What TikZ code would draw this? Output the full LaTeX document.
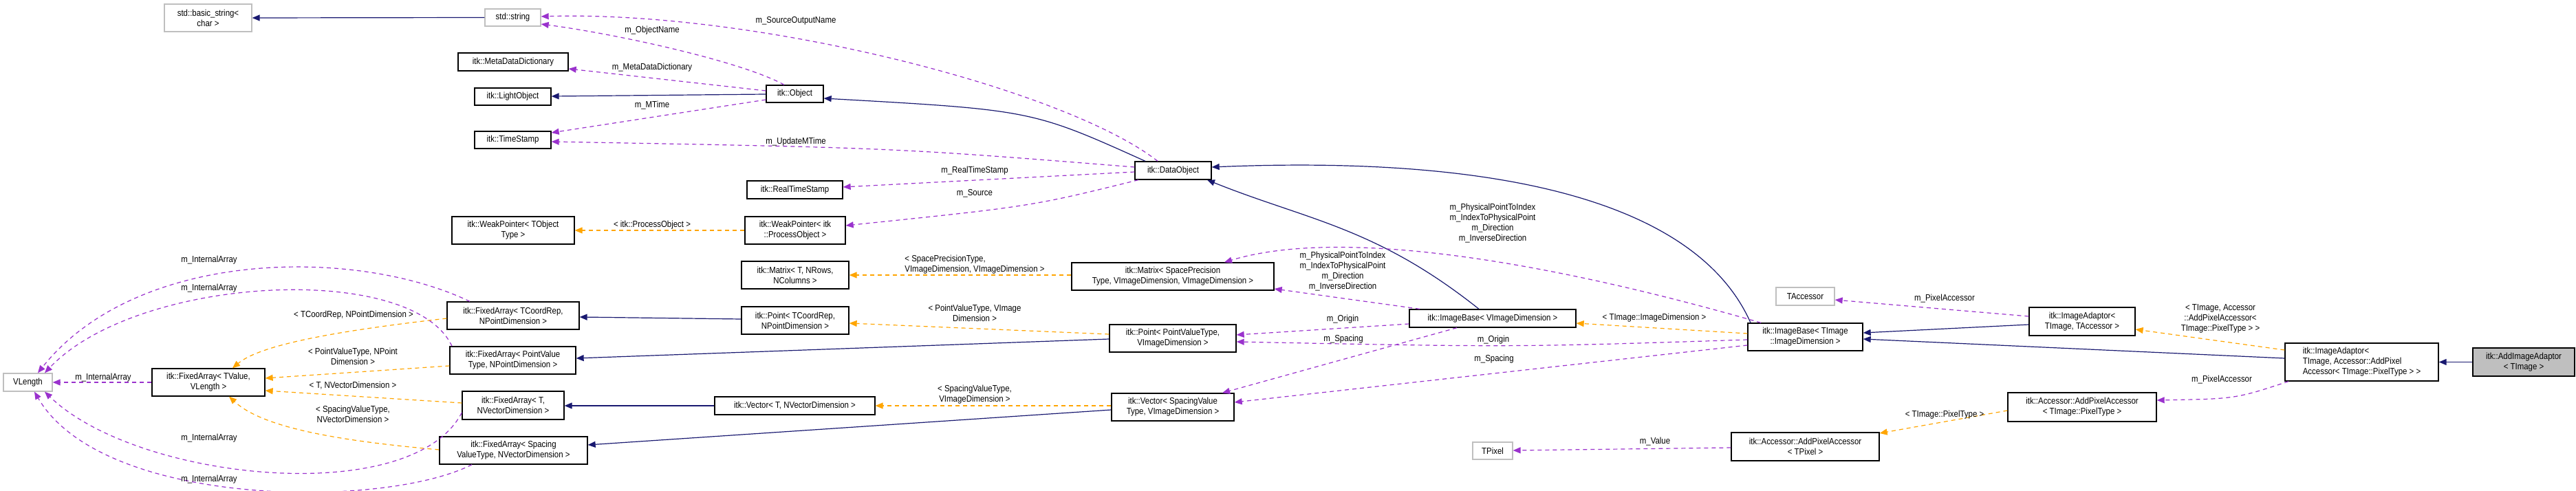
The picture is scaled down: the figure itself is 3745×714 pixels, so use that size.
\documentclass[tikz,border=0pt]{standalone}
\usepackage{fontspec}
\setmainfont{Liberation Sans}[FakeStretch=0.88]
\usetikzlibrary{arrows.meta}
\definecolor{inhc}{HTML}{191970}
\definecolor{usec}{HTML}{9A32CD}
\definecolor{tplc}{HTML}{FFA500}
\newcommand\fs{\fontsize{13}{15}\selectfont}
\newcommand\mybox[7][box]{\node[#1,minimum width={(#5-#3)*1pt},minimum height={(#6-#4)*1pt}] (#2) at ({(#3+#5)/2},{(#4+#6)/2}) {#7};}
\tikzset{
 box/.style={draw=black,line width=1.3pt,fill=white,inner sep=0pt,font=\fs,align=center},
 ext/.style={box,draw=black!25},
 sel/.style={box,fill=black!25},
 tip/.style={-{Triangle[width=9pt,length=11pt]}},
 inh/.style={tip,draw=inhc,line width=1.2pt},
 use/.style={tip,draw=usec,line width=1.2pt,dash pattern=on 6pt off 5pt},
 tpl/.style={tip,draw=tplc,line width=1.2pt,dash pattern=on 6pt off 5pt},
 lbl/.style={font=\fs,inner sep=0pt,align=center}
}
\begin{document}
\begin{tikzpicture}[x=1pt,y=-1pt]
\useasboundingbox (0,0) rectangle (3745,714);
% nodes
\mybox[ext]{bstr}{239}{6}{366}{46}{std::basic\_string<\\char >}
\mybox[ext]{str}{705}{13}{786}{38}{std::string}
\mybox{mdd}{666}{77}{826}{103}{itk::MetaDataDictionary}
\mybox{lobj}{690}{128}{801}{153}{itk::LightObject}
\mybox{ts}{690}{191}{801}{216}{itk::TimeStamp}
\mybox{wpt}{657}{315}{835}{355}{itk::WeakPointer< TObject\\Type >}
\mybox{obj}{1114}{124}{1197}{149}{itk::Object}
\mybox{dobj}{1650}{235}{1761}{261}{itk::DataObject}
\mybox{rts}{1086}{263}{1225}{289}{itk::RealTimeStamp}
\mybox{wpi}{1083}{315}{1229}{355}{itk::WeakPointer< itk\\::ProcessObject >}
\mybox{mt}{1078}{380}{1234}{420}{itk::Matrix< T, NRows,\\NColumns >}
\mybox{msp}{1558}{382}{1852}{422}{itk::Matrix< SpacePrecision\\Type, VImageDimension, VImageDimension >}
\mybox{pt}{1078}{446}{1234}{486}{itk::Point< TCoordRep,\\NPointDimension >}
\mybox{ppv}{1613}{472}{1797}{512}{itk::Point< PointValueType,\\VImageDimension >}
\mybox{vt}{1039}{577}{1272}{603}{itk::Vector< T, NVectorDimension >}
\mybox{vsv}{1616}{572}{1794}{612}{itk::Vector< SpacingValue\\Type, VImageDimension >}
\mybox{fatc}{650}{439}{842}{479}{itk::FixedArray< TCoordRep,\\NPointDimension >}
\mybox{fapv}{654}{504}{837}{544}{itk::FixedArray< PointValue\\Type, NPointDimension >}
\mybox{fat}{672}{569}{820}{610}{itk::FixedArray< T,\\NVectorDimension >}
\mybox{fasv}{639}{635}{854}{675}{itk::FixedArray< Spacing\\ValueType, NVectorDimension >}
\mybox{fatv}{221}{536}{385}{576}{itk::FixedArray< TValue,\\VLength >}
\mybox[ext]{vl}{5}{543}{76}{569}{VLength}
\mybox{ibv}{2049}{450}{2291}{476}{itk::ImageBase< VImageDimension >}
\mybox{ibt}{2541}{470}{2708}{510}{itk::ImageBase< TImage\\::ImageDimension >}
\mybox[ext]{tacc}{2582}{418}{2667}{444}{TAccessor}
\mybox[ext]{tpx}{2141}{643}{2199}{668}{TPixel}
\mybox{apt}{2517}{629}{2732}{670}{itk::Accessor::AddPixelAccessor\\< TPixel >}
\mybox{iat}{2950}{447}{3104}{488}{itk::ImageAdaptor<\\ TImage, TAccessor >}
\mybox[box,align=left]{iap}{3322}{499}{3545}{554}{itk::ImageAdaptor<\\ TImage, Accessor::AddPixel\\Accessor< TImage::PixelType > >}
\mybox[sel]{aia}{3595}{506}{3743}{547}{itk::AddImageAdaptor\\< TImage >}
\mybox{api}{2919}{571}{3135}{613}{itk::Accessor::AddPixelAccessor\\< TImage::PixelType >}
% edges
\draw[inh] (str.west) -- (bstr.east);
\draw[use] (obj.north -| 1140,0) .. controls (1080,90) and (900,50) .. (str.east |- 0,35);
\draw[use] (dobj.north -| 1683,0) .. controls (1550,130) and (1100,15) .. (str.east |- 0,24);
\draw[use] (obj.west |- 0,132) -- (mdd.east |- 0,100);
\draw[inh] (obj.west |- 0,137) -- (lobj.east |- 0,140);
\draw[use] (obj.west |- 0,145) -- (ts.east |- 0,193);
\draw[use] (dobj.west |- 0,243) .. controls (1300,215) .. (ts.east |- 0,206);
\draw[inh] (dobj.north -| 1665,0) .. controls (1500,160) .. (obj.east |- 0,143);
\draw[use] (dobj.west |- 0,250) -- (rts.east |- 0,272);
\draw[use] (dobj.south -| 1655,0) .. controls (1500,300) .. (wpi.east |- 0,328);
\draw[tpl] (wpi.west |- 0,335) -- (wpt.east |- 0,335);
\draw[tpl] (msp.west |- 0,400) -- (mt.east |- 0,400);
\draw[tpl] (ppv.west |- 0,486) -- (pt.east |- 0,470);
\draw[tpl] (vsv.west |- 0,590) -- (vt.east |- 0,590);
\draw[inh] (pt.west |- 0,464) -- (fatc.east |- 0,461);
\draw[inh] (ppv.west |- 0,493) -- (fapv.east |- 0,521);
\draw[inh] (vt.west |- 0,590) -- (fat.east |- 0,590);
\draw[inh] (vsv.west |- 0,596) -- (fasv.east |- 0,647);
\draw[tpl] (fatc.west |- 0,463) .. controls (500,480) and (380,500) .. (fatv.north -| 338,0);
\draw[tpl] (fapv.west |- 0,532) -- (fatv.east |- 0,550);
\draw[tpl] (fat.west |- 0,586) -- (fatv.east |- 0,568);
\draw[tpl] (fasv.west |- 0,654) .. controls (480,640) and (380,620) .. (fatv.south -| 333,0);
\draw[use] (fatv.west) -- (vl.east);
\draw[use] (fatc.north -| 683,0) .. controls (520,360) and (200,360) .. (vl.north -| 55,0);
\draw[use] (fapv.north -| 657,0) .. controls (600,380) and (200,400) .. (vl.north -| 65,0);
\draw[use] (fat.west |- 0,600) .. controls (600,740) and (200,700) .. (vl.south -| 65,0);
\draw[use] (fasv.south -| 686,0) .. controls (560,740) and (150,740) .. (vl.south -| 50,0);
\draw[inh] (ibv.north -| 2150,0) .. controls (2000,330) and (1900,320) .. (dobj.south -| 1755,0);
\draw[inh] (ibt.north -| 2545,0) .. controls (2470,300) and (2200,225) .. (dobj.east |- 0,243);
\draw[use] (ibv.north -| 2064,0) -- (msp.east |- 0,420);
\draw[use] (ibt.north -| 2560,0) .. controls (2250,380) and (1950,330) .. (msp.north -| 1780,0);
\draw[use] (ibv.west |- 0,471) -- (ppv.east |- 0,487);
\draw[use] (ibt.west |- 0,494) .. controls (2200,505) .. (ppv.east |- 0,497);
\draw[use] (ibv.south -| 2118,0) -- (vsv.north -| 1777,0);
\draw[use] (ibt.west |- 0,502) -- (vsv.east |- 0,585);
\draw[tpl] (ibt.west |- 0,485) -- (ibv.east |- 0,470);
\draw[use] (apt.west |- 0,651) -- (tpx.east |- 0,655);
\draw[use] (iat.west |- 0,460) -- (tacc.east |- 0,436);
\draw[inh] (iat.west |- 0,472) -- (ibt.east |- 0,484);
\draw[inh] (iap.west |- 0,521) -- (ibt.east |- 0,493);
\draw[tpl] (iap.west |- 0,509) -- (iat.east |- 0,479);
\draw[use] (iap.south -| 3327,0) .. controls (3250,580) .. (api.east |- 0,582);
\draw[tpl] (api.west |- 0,597) -- (apt.east |- 0,630);
\draw[inh] (aia.west) -- (iap.east |- aia.west);
% labels
\node[lbl] (l1) at (948,44) {m\_ObjectName};
\node[lbl] (l2) at (1157,30) {m\_SourceOutputName};
\node[lbl] (l3) at (948,98) {m\_MetaDataDictionary};
\node[lbl] (l4) at (948,153) {m\_MTime};
\node[lbl] (l5) at (1157,206) {m\_UpdateMTime};
\node[lbl] (l6) at (1417,248) {m\_RealTimeStamp};
\node[lbl] (l7) at (1417,281) {m\_Source};
\node[lbl] (l8) at (948,327) {< itk::ProcessObject >};
\node[lbl,align=left] (l9) at (1417,385) {< SpacePrecisionType,\\VImageDimension, VImageDimension >};
\node[lbl] (l10) at (1417,455) {< PointValueType, VImage\\Dimension >};
\node[lbl] (l11) at (1417,574) {< SpacingValueType,\\VImageDimension >};
\node[lbl] (l12) at (514,458) {< TCoordRep, NPointDimension >};
\node[lbl] (l13) at (513,518) {< PointValueType, NPoint\\Dimension >};
\node[lbl] (l14) at (513,561) {< T, NVectorDimension >};
\node[lbl] (l15) at (513,602) {< SpacingValueType,\\NVectorDimension >};
\node[lbl] (l16) at (150,549) {m\_InternalArray};
\node[lbl] (l17) at (304,378) {m\_InternalArray};
\node[lbl] (l18) at (304,419) {m\_InternalArray};
\node[lbl] (l19) at (304,637) {m\_InternalArray};
\node[lbl] (l20) at (304,697) {m\_InternalArray};
\node[lbl] (l21) at (1952,395) {m\_PhysicalPointToIndex\\m\_IndexToPhysicalPoint\\m\_Direction\\m\_InverseDirection};
\node[lbl] (l22) at (2170,325) {m\_PhysicalPointToIndex\\m\_IndexToPhysicalPoint\\m\_Direction\\m\_InverseDirection};
\node[lbl] (l23) at (1952,464) {m\_Origin};
\node[lbl] (l24) at (2171,494) {m\_Origin};
\node[lbl] (l25) at (1953,493) {m\_Spacing};
\node[lbl] (l26) at (2172,522) {m\_Spacing};
\node[lbl] (l27) at (2405,462) {< TImage::ImageDimension >};
\node[lbl] (l28) at (2406,642) {m\_Value};
\node[lbl] (l29) at (2827,434) {m\_PixelAccessor};
\node[lbl] (l30) at (3228,463) {< TImage, Accessor\\::AddPixelAccessor<\\TImage::PixelType > >};
\node[lbl] (l31) at (3230,552) {m\_PixelAccessor};
\node[lbl] (l32) at (2827,603) {< TImage::PixelType >};
\end{tikzpicture}
\end{document}
